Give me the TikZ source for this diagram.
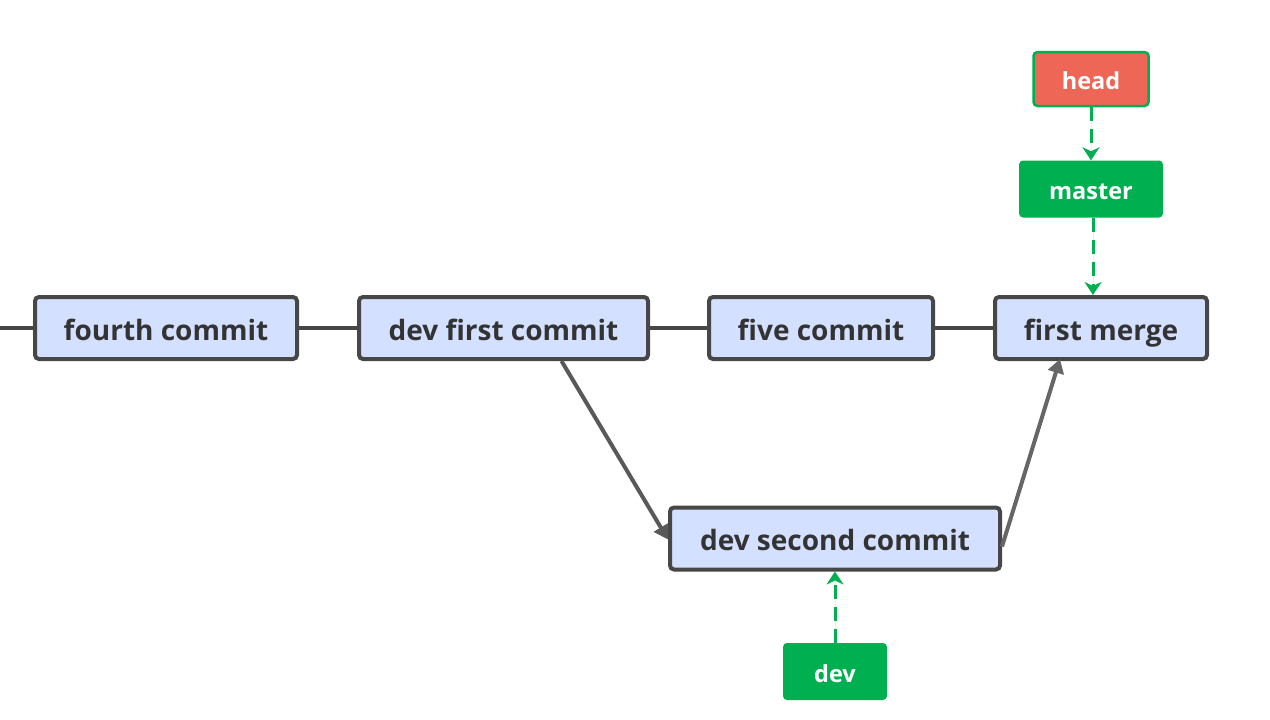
\documentclass[tikz,border=0pt]{standalone}
\usepackage{fontspec}
\setmainfont{Open Sans}
\usetikzlibrary{arrows.meta}
\definecolor{boxfill}{HTML}{D4E0FF}
\definecolor{boxline}{HTML}{474747}
\definecolor{txt}{HTML}{333333}
\definecolor{grn}{HTML}{00B050}
\definecolor{headred}{HTML}{EE6655}
\begin{document}
\begin{tikzpicture}[x=1pt,y=-1pt,
  commit/.style={draw=boxline,line width=4pt,fill=boxfill,rounded corners=4pt,
    minimum height=62pt,inner sep=0pt,text height=24pt,text depth=0pt,
    font=\bfseries\fontsize{28}{32}\selectfont,text=txt},
  ptr/.style={fill=grn,rounded corners=4pt,minimum height=57pt,inner sep=0pt,
    text height=21pt,text depth=0pt,
    font=\bfseries\fontsize{23.5}{28}\selectfont,text=white},
  link/.style={draw=boxline,line width=4pt},
  parent/.style={line width=4pt,-{Triangle[length=14pt,width=16pt]}},
  ref/.style={-{Stealth[length=13pt,width=17pt,inset=4pt]},draw=grn,fill=grn,dash pattern=on 14pt off 8pt,line width=3pt}]
\useasboundingbox (0,0) rectangle (1270,720);
\node[commit,minimum width=262pt] (c4) at (166,328) {fourth commit};
\node[commit,minimum width=289pt] (d1) at (503.5,328) {dev first commit};
\node[commit,minimum width=224pt] (c5) at (821,328) {five commit};
\node[commit,minimum width=212pt] (m) at (1101,328) {first merge};
\node[commit,minimum width=330pt] (d2) at (835,538.5) {dev second commit};
\node[ptr,fill=headred,draw=grn,line width=2.5pt,minimum width=115pt,minimum height=54pt] (h) at (1091,79) {head};
\node[ptr,minimum width=144pt] (ms) at (1091,189) {master};
\node[ptr,minimum width=104pt] (dv) at (835,671.5) {dev};
\coordinate (l0) at (0,328);
\draw[link] (l0) -- (c4.west);
\draw[link] (c4.east) -- (d1.west);
\draw[link] (d1.east) -- (c5.west);
\draw[link] (c5.east) -- (m.west);
\draw[parent,color=boxline!90] ([xshift=58pt]d1.south) -- ([yshift=-1pt]d2.west);
\draw[parent,color=black!60] ([yshift=-8pt]d2.east) -- ([xshift=-41pt,yshift=2pt]m.south);
\draw[ref] (h.south) -- (ms.north);
\draw[ref] ([xshift=2pt]ms.south) -- ([xshift=-8pt]m.north);
\draw[ref] (dv.north) -- (d2.south);
\end{tikzpicture}
\end{document}
